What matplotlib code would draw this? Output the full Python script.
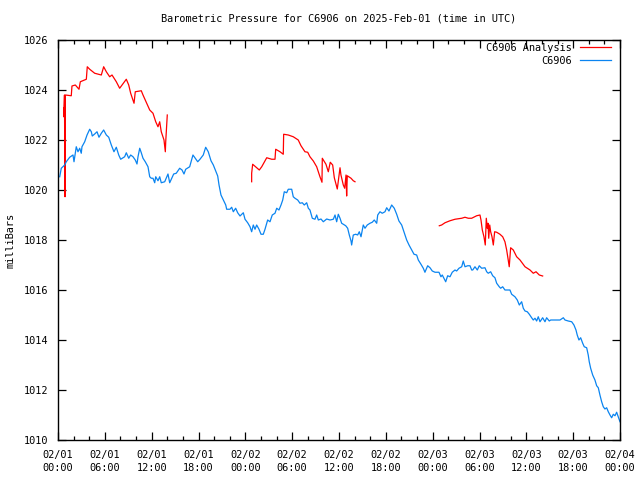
import numpy as np
import matplotlib
matplotlib.use("Agg")
import matplotlib.pyplot as plt
from matplotlib.ticker import MultipleLocator, FixedLocator

title = "Barometric Pressure for C6906 on 2025-Feb-01 (time in UTC)"
ylabel = "milliBars"
obs_name = "C6906"
ana_name = "C6906 Analysis"

# hours since 2025-02-01 00:00 UTC
obs_hours = [0.22, 0.42, 0.86, 1.06, 1.50, 1.92, 2.05, 2.34, 2.56, 2.78, 2.98, 3.07, 3.42, 3.72,
             4.06, 4.27, 4.39, 4.70, 5.00, 5.25, 5.55, 5.85, 6.19, 6.50, 6.83, 7.17, 7.47, 7.78,
             8.03, 8.54, 8.75, 9.06, 9.31, 9.61, 9.90, 10.12, 10.25, 10.47, 10.67, 10.89, 11.18,
             11.53, 11.75, 11.95, 12.17, 12.39, 12.52, 12.81, 13.03, 13.23, 13.67, 14.09, 14.31,
             14.51, 14.82, 15.15, 15.59, 15.89, 16.14, 16.36, 16.87, 17.29, 17.59, 17.90, 18.19,
             18.61, 18.92, 19.25, 19.60, 19.90, 20.20, 20.46, 20.63, 20.88, 21.18, 21.49, 21.61,
             22.03, 22.25, 22.46, 22.76, 23.02, 23.32, 23.74, 23.96, 24.30, 24.60, 24.81, 25.02,
             25.24, 25.45, 25.75, 26.01, 26.30, 26.52, 26.86, 27.16, 27.45, 27.80, 28.02, 28.31,
             28.57, 28.79, 28.99, 29.30, 29.50, 29.94, 30.14, 30.36, 30.71, 31.00, 31.30, 31.55,
             31.86, 32.07, 32.28, 32.58, 32.92, 33.14, 33.35, 33.69, 33.99, 34.42, 34.85, 35.27,
             35.49, 35.70, 35.91, 36.13, 36.34, 36.55, 36.86, 37.11, 37.32, 37.54, 37.62, 37.83,
             38.14, 38.39, 38.60, 38.82, 39.11, 39.33, 39.62, 39.97, 40.26, 40.52, 40.83, 40.96,
             41.25, 41.54, 41.89, 42.11, 42.40, 42.75, 43.08, 43.39, 43.68, 44.03, 44.24, 44.45,
             44.67, 44.97, 45.31, 45.61, 45.95, 46.16, 46.50, 46.80, 47.01, 47.36, 47.66, 47.95,
             48.30, 48.81, 49.06, 49.23, 49.41, 49.67, 49.92, 50.22, 50.51, 50.86, 51.07, 51.37,
             51.72, 51.92, 52.14, 52.49, 52.78, 53.00, 53.13, 53.42, 53.72, 53.97, 54.28, 54.70,
             54.92, 55.12, 55.43, 55.69, 55.98, 56.20, 56.53, 56.71, 56.97, 57.26, 57.90, 58.12,
             58.54, 58.84, 59.10, 59.40, 59.61, 59.83, 60.12, 60.38, 60.68, 60.89, 61.11, 61.32,
             61.53, 61.75, 62.09, 62.39, 62.60, 62.94, 63.12, 63.67, 64.31, 64.74, 64.95, 65.37,
             65.81, 66.10, 66.36, 66.52, 66.74, 66.96, 67.22, 67.42, 67.73, 67.93, 68.06, 68.24,
             68.50, 68.79, 69.01, 69.22, 69.43, 69.65, 69.86, 70.07, 70.29, 70.50, 70.72, 70.93,
             71.14, 71.36, 71.57, 71.78, 72.00]
obs_mb = [1020.53, 1020.87, 1021.00, 1021.13, 1021.31, 1021.40, 1021.13, 1021.73, 1021.53, 1021.67,
          1021.47, 1021.73, 1021.93, 1022.20, 1022.43, 1022.33, 1022.16, 1022.24, 1022.33, 1022.11,
          1022.27, 1022.40, 1022.20, 1022.11, 1021.80, 1021.53, 1021.71, 1021.40, 1021.23, 1021.33,
          1021.49, 1021.27, 1021.40, 1021.33, 1021.20, 1021.04, 1021.33, 1021.67, 1021.49, 1021.27,
          1021.13, 1020.93, 1020.53, 1020.47, 1020.47, 1020.29, 1020.53, 1020.37, 1020.53, 1020.29,
          1020.33, 1020.64, 1020.29, 1020.43, 1020.64, 1020.67, 1020.87, 1020.80, 1020.64, 1020.83,
          1020.93, 1021.40, 1021.27, 1021.13, 1021.23, 1021.40, 1021.71, 1021.53, 1021.17, 1021.00,
          1020.77, 1020.56, 1020.20, 1019.80, 1019.60, 1019.40, 1019.23, 1019.23, 1019.31, 1019.13,
          1019.27, 1019.09, 1018.96, 1019.09, 1018.83, 1018.69, 1018.53, 1018.33, 1018.60, 1018.43,
          1018.60, 1018.43, 1018.23, 1018.23, 1018.43, 1018.80, 1018.73, 1019.00, 1019.07, 1019.27,
          1019.20, 1019.40, 1019.60, 1019.93, 1019.89, 1020.03, 1020.03, 1019.73, 1019.67, 1019.60,
          1019.47, 1019.49, 1019.40, 1019.49, 1019.27, 1019.20, 1018.87, 1018.83, 1019.00, 1018.80,
          1018.84, 1018.73, 1018.84, 1018.80, 1018.83, 1019.00, 1018.73, 1019.03, 1018.87, 1018.67,
          1018.63, 1018.57, 1018.47, 1018.20, 1017.96, 1017.80, 1018.20, 1018.23, 1018.20, 1018.33,
          1018.13, 1018.60, 1018.47, 1018.60, 1018.67, 1018.71, 1018.80, 1018.67, 1019.00, 1019.13,
          1019.07, 1019.13, 1019.29, 1019.16, 1019.40, 1019.27, 1019.03, 1018.76, 1018.60, 1018.40,
          1018.20, 1018.00, 1017.80, 1017.60, 1017.43, 1017.40, 1017.20, 1017.03, 1016.87, 1016.71,
          1016.97, 1016.89, 1016.76, 1016.71, 1016.71, 1016.53, 1016.60, 1016.49, 1016.33, 1016.57,
          1016.53, 1016.71, 1016.80, 1016.76, 1016.87, 1016.93, 1017.16, 1016.93, 1016.97, 1016.97,
          1016.80, 1016.80, 1016.93, 1016.80, 1016.97, 1016.87, 1016.89, 1016.73, 1016.67, 1016.73,
          1016.57, 1016.49, 1016.27, 1016.13, 1016.07, 1016.13, 1016.00, 1016.00, 1015.83, 1015.73,
          1015.60, 1015.40, 1015.53, 1015.27, 1015.16, 1015.13, 1015.03, 1014.89, 1014.80, 1014.87,
          1014.76, 1014.93, 1014.73, 1014.89, 1014.73, 1014.89, 1014.76, 1014.80, 1014.80, 1014.80,
          1014.89, 1014.80, 1014.76, 1014.73, 1014.60, 1014.40, 1014.20, 1014.00, 1014.09, 1013.87,
          1013.73, 1013.69, 1013.40, 1013.13, 1012.87, 1012.60, 1012.40, 1012.17, 1012.09, 1011.80,
          1011.53, 1011.33, 1011.24, 1011.29, 1011.13, 1011.00, 1010.89, 1011.03, 1010.97, 1011.11,
          1010.93, 1010.73]

# analysis series (NaN separates the three runs)
ana_hours = [0.73, 0.73, 0.83, 0.86, 0.90, 0.94, 1.70, 1.79, 2.22, 2.69, 2.86, 3.63, 3.75, 4.06,
             4.70, 5.55, 5.85, 6.19, 6.62, 6.92, 7.47, 7.90, 8.75, 9.06, 9.31, 9.74, 9.90, 10.67,
             10.89, 11.75, 12.17, 12.52, 12.81, 13.03, 13.23, 13.58, 13.75, 13.80, 14.00,
             np.nan,
             24.81, 24.81, 24.94, 25.79, 26.10, 26.74, 27.38, 27.80, 27.89, 28.44, 28.86, 28.91,
             29.50, 30.14, 30.78, 31.13, 31.64, 31.99, 32.28, 32.71, 33.14, 33.56, 33.82, 33.86,
             34.33, 34.63, 34.88, 35.19, 35.40, 35.78, 36.13, 36.25, 36.55, 36.73, 36.90, 36.98,
             37.06, 37.54, 37.83, 38.05,
             np.nan,
             48.85, 49.15, 49.58, 50.22, 50.86, 51.72, 52.14, 52.56, 53.00, 53.64, 54.06, 54.19,
             54.36, 54.57, 54.74, 54.87, 55.00, 55.09, 55.18, 55.31, 55.43, 55.60, 55.77, 55.94,
             56.20, 56.62, 56.97, 57.26, 57.48, 57.68, 57.81, 57.99, 58.33, 58.76, 59.19, 59.83,
             60.47, 60.89, 61.24, 61.66, 62.09]
ana_mb = [1023.27, 1022.93, 1023.80, 1021.73, 1019.73, 1023.80, 1023.77, 1024.16, 1024.20, 1024.03,
          1024.33, 1024.43, 1024.93, 1024.83, 1024.67, 1024.60, 1024.93, 1024.73, 1024.53, 1024.60,
          1024.33, 1024.07, 1024.43, 1024.20, 1023.87, 1023.47, 1023.93, 1023.97, 1023.80, 1023.20,
          1023.07, 1022.73, 1022.53, 1022.73, 1022.33, 1022.00, 1021.53, 1021.93, 1023.00,
          np.nan,
          1020.33, 1020.67, 1021.03, 1020.80, 1020.93, 1021.29, 1021.23, 1021.23, 1021.63, 1021.53,
          1021.43, 1022.23, 1022.20, 1022.13, 1022.00, 1021.77, 1021.53, 1021.51, 1021.33, 1021.16,
          1020.93, 1020.53, 1020.31, 1021.27, 1021.03, 1020.73, 1021.11, 1021.00, 1020.49, 1020.04,
          1020.89, 1020.60, 1020.20, 1020.07, 1020.60, 1019.76, 1020.57, 1020.47, 1020.37, 1020.33,
          np.nan,
          1018.57, 1018.60, 1018.69, 1018.77, 1018.83, 1018.87, 1018.91, 1018.87, 1018.87, 1018.97,
          1019.00, 1018.80, 1018.40, 1018.13, 1017.80, 1018.87, 1018.47, 1018.67, 1018.07, 1018.60,
          1018.33, 1018.13, 1017.80, 1018.33, 1018.31, 1018.23, 1018.13, 1017.93, 1017.60, 1017.20,
          1016.93, 1017.69, 1017.60, 1017.33, 1017.20, 1016.93, 1016.80, 1016.67, 1016.73, 1016.60,
          1016.56]

xtick_hours = [0, 6, 12, 18, 24, 30, 36, 42, 48, 54, 60, 66, 72]
xtick_labels = ["02/01\n00:00", "02/01\n06:00", "02/01\n12:00", "02/01\n18:00",
                "02/02\n00:00", "02/02\n06:00", "02/02\n12:00", "02/02\n18:00",
                "02/03\n00:00", "02/03\n06:00", "02/03\n12:00", "02/03\n18:00",
                "02/04\n00:00"]
yticks = [1010, 1012, 1014, 1016, 1018, 1020, 1022, 1024, 1026]

FS = 7.4
plt.rcParams['font.family'] = ['DejaVu Sans Mono']
plt.rcParams['font.size'] = FS

fig = plt.figure(figsize=(6.4, 4.8), dpi=100)
ax = fig.add_axes([58/640, 40/480, 562/640, 400/480])

ax.plot(ana_hours, ana_mb, color='#ff0000', lw=0.9, label=ana_name)
ax.plot(obs_hours, obs_mb, color='#0a84f0', lw=0.9, label=obs_name)

ax.set_xlim(0, 72)
ax.set_ylim(1010, 1026)
ax.xaxis.set_major_locator(FixedLocator(xtick_hours))
ax.set_xticklabels(xtick_labels, linespacing=1.35)
ax.xaxis.set_minor_locator(MultipleLocator(2))
ax.set_yticks(yticks)
ax.set_yticklabels([str(v) for v in yticks])

ax.tick_params(which='both', direction='in', top=True, right=True, color='black', width=0.9)
ax.tick_params(which='major', length=6)
ax.tick_params(which='minor', length=3)
ax.tick_params(axis='x', which='major', pad=7)
ax.tick_params(axis='y', which='major', pad=7)
for s in ax.spines.values():
    s.set_linewidth(1.0)
    s.set_color('black')

ax.set_ylabel(ylabel, labelpad=6)
ax.text(0.5, 1 + 21/400, title, transform=ax.transAxes, ha='center', va='center', fontsize=FS)

leg = ax.legend(loc='upper right', bbox_to_anchor=((611-58)/562, (440-43)/400),
                frameon=False, markerfirst=False, handlelength=3.0, handletextpad=0.8,
                labelspacing=0.3, borderpad=0, borderaxespad=0, fontsize=FS)

fig.savefig('out.png', dpi=100)
